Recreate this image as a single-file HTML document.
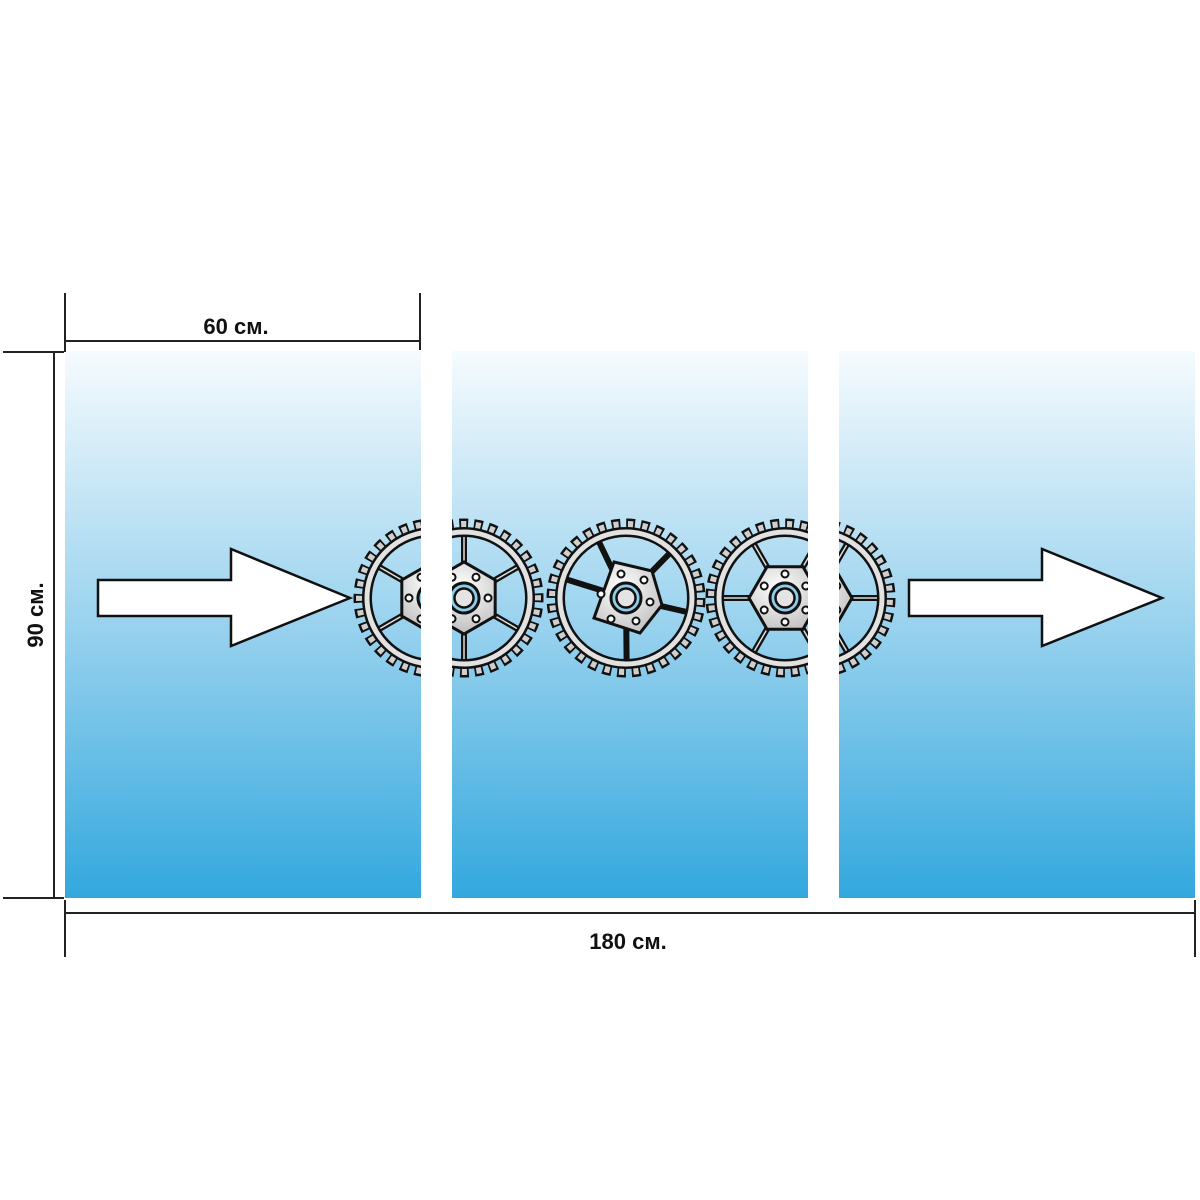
<!DOCTYPE html>
<html><head><meta charset="utf-8"><style>
html,body{margin:0;padding:0;background:#fff;width:1200px;height:1200px;overflow:hidden}
svg{display:block}
text{font-family:"Liberation Sans",Arial,sans-serif;font-weight:bold;fill:#111}
</style></head><body>
<svg width="1200" height="1200" viewBox="0 0 1200 1200" xmlns="http://www.w3.org/2000/svg">
<defs>
<linearGradient id="bg" gradientUnits="userSpaceOnUse" x1="0" y1="351" x2="0" y2="898">
<stop offset="0" stop-color="#f6fbfe"/><stop offset="0.5" stop-color="#99d2ee"/><stop offset="1" stop-color="#33a8de"/>
</linearGradient>
<radialGradient id="metal" cx="0.4" cy="0.35" r="0.8">
<stop offset="0" stop-color="#ffffff"/><stop offset="1" stop-color="#b9b9b9"/>
</radialGradient>
<g id="rim">
<circle r="72" fill="none" stroke="#111" stroke-width="15" stroke-dasharray="8.5 5.64"/>
<circle r="71.5" fill="none" stroke="#cfcfcf" stroke-width="11" stroke-dasharray="5 9.04" stroke-dashoffset="-1.75"/>
<circle r="66" fill="none" stroke="#111" stroke-width="10"/>
<circle r="66" fill="none" stroke="#e2e2e2" stroke-width="5"/>
</g>
<g id="center">
<circle r="15" fill="#8fcde9" stroke="#111" stroke-width="3"/>
<circle r="9.5" fill="#e4e4e4" stroke="#111" stroke-width="2.5"/>
</g>
<g id="gear6">
<use href="#rim"/>
<g stroke="#111" stroke-width="6">
<line x1="0" y1="0" x2="62" y2="0"/><line x1="0" y1="0" x2="31" y2="53.7"/><line x1="0" y1="0" x2="-31" y2="53.7"/>
<line x1="0" y1="0" x2="-62" y2="0"/><line x1="0" y1="0" x2="-31" y2="-53.7"/><line x1="0" y1="0" x2="31" y2="-53.7"/>
</g>
<g stroke="#ddd" stroke-width="1.5">
<line x1="30" y1="0" x2="61" y2="0"/><line x1="15" y1="26" x2="30.5" y2="52.8"/><line x1="-15" y1="26" x2="-30.5" y2="52.8"/>
<line x1="-30" y1="0" x2="-61" y2="0"/><line x1="-15" y1="-26" x2="-30.5" y2="-52.8"/><line x1="15" y1="-26" x2="30.5" y2="-52.8"/>
</g>
<polygon points="36,0 18,31.2 -18,31.2 -36,0 -18,-31.2 18,-31.2" fill="url(#metal)" stroke="#111" stroke-width="3"/>
<g fill="#fff" stroke="#111" stroke-width="2">
<circle cx="0" cy="-24" r="3.5"/><circle cx="20.8" cy="-12" r="3.5"/><circle cx="20.8" cy="12" r="3.5"/>
<circle cx="0" cy="24" r="3.5"/><circle cx="-20.8" cy="12" r="3.5"/><circle cx="-20.8" cy="-12" r="3.5"/>
</g>
<use href="#center"/>
</g>
<g id="gear5">
<use href="#rim"/>
<g stroke="#111" stroke-width="6">
<line x1="0" y1="0" x2="-27" y2="-56"/><line x1="0" y1="0" x2="44" y2="-45"/><line x1="0" y1="0" x2="61" y2="14"/>
<line x1="0" y1="0" x2="7" y2="-62" transform="rotate(173)"/><line x1="0" y1="0" x2="-62" y2="-8" transform="rotate(10)"/>
</g>
<polygon points="-12,-36 26,-27 36,7 14,35 -32,20" fill="url(#metal)" stroke="#111" stroke-width="3"/>
<g fill="#fff" stroke="#111" stroke-width="2">
<circle cx="-5" cy="-24" r="3.5"/><circle cx="18" cy="-18" r="3.5"/><circle cx="24" cy="4" r="3.5"/>
<circle cx="10" cy="23" r="3.5"/><circle cx="-15" cy="21" r="3.5"/><circle cx="-25" cy="-4" r="3.5"/>
</g>
<use href="#center"/>
</g>
<g id="art">
<use href="#gear6" transform="translate(433,598) rotate(30)"/>
<use href="#gear5" x="595" y="598"/>
<use href="#gear6" x="754" y="598"/>
</g>
<clipPath id="c1"><rect x="65" y="351" width="356" height="547"/></clipPath>
<clipPath id="c2"><rect x="452" y="351" width="356" height="547"/></clipPath>
<clipPath id="c3"><rect x="839" y="351" width="356" height="547"/></clipPath>
</defs>
<rect x="65" y="351" width="356" height="547" fill="url(#bg)"/>
<rect x="452" y="351" width="356" height="547" fill="url(#bg)"/>
<rect x="839" y="351" width="356" height="547" fill="url(#bg)"/>
<g clip-path="url(#c1)"><use href="#art"/></g>
<g clip-path="url(#c2)"><use href="#art" x="31"/></g>
<g clip-path="url(#c3)"><use href="#art" x="62"/></g>
<g fill="#fff" stroke="#111" stroke-width="2.5" stroke-linejoin="miter">
<polygon points="98,580 231,580 231,549 350,598 231,646 231,616 98,616"/>
<polygon points="909,580 1042,580 1042,549 1162,598 1042,646 1042,616 909,616"/>
</g>
<g stroke="#222" stroke-width="2" fill="none">
<line x1="65" y1="293" x2="65" y2="352"/>
<line x1="420" y1="293" x2="420" y2="350"/>
<line x1="65" y1="341" x2="420" y2="341"/>
<line x1="3" y1="352" x2="64" y2="352"/>
<line x1="54" y1="352" x2="54" y2="898"/>
<line x1="3" y1="898" x2="64" y2="898"/>
<line x1="65" y1="900" x2="65" y2="957"/>
<line x1="1195" y1="900" x2="1195" y2="957"/>
<line x1="65" y1="913" x2="1195" y2="913"/>
</g>
<text x="236" y="334" font-size="22" text-anchor="middle">60 см.</text>
<text x="628" y="949" font-size="22" text-anchor="middle">180 см.</text>
<text transform="translate(43,615) rotate(-90)" font-size="22" text-anchor="middle">90 см.</text>
</svg>
</body></html>
